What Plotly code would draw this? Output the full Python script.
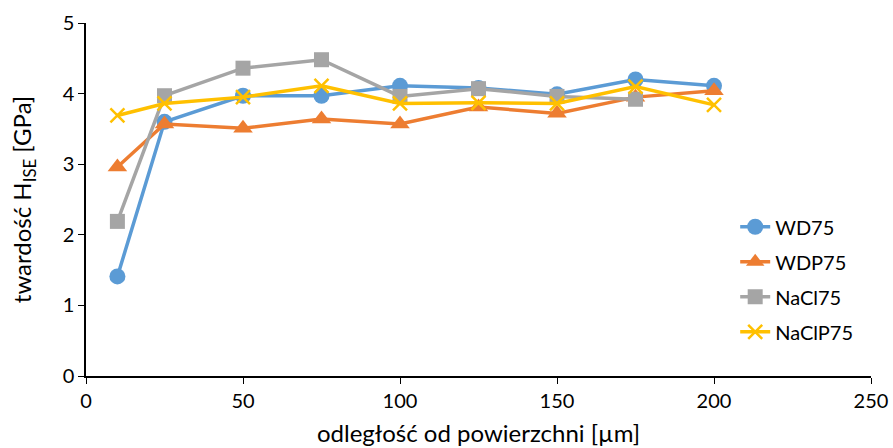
import plotly.graph_objects as go

# odległość od powierzchni [µm]
x = [10, 25, 50, 75, 100, 125, 150, 175, 200]

wd75 = [1.41, 3.60, 3.97, 3.97, 4.11, 4.08, 3.99, 4.20, 4.11]
wdp75 = [2.96, 3.57, 3.51, 3.64, 3.57, 3.81, 3.72, 3.95, 4.04]
nacl75 = [2.19, 3.97, 4.36, 4.48, 3.96, 4.07, 3.96, 3.92]
naclp75 = [3.69, 3.86, 3.95, 4.11, 3.86, 3.87, 3.86, 4.10, 3.84]

series = [
    ("WD75", x, wd75, "#5B9BD5", "circle", 16),
    ("WDP75", x, wdp75, "#ED7D31", "triangle-up", 17),
    ("NaCl75", x[:8], nacl75, "#A5A5A5", "square", 15),
    ("NaClP75", x, naclp75, "#FFC000", "x-thin-open", 14),
]

fig = go.Figure()
for name, xs, ys, col, sym, sz in series:
    marker = dict(color=col, symbol=sym, size=sz)
    if sym == "x-thin-open":
        marker["line"] = dict(color=col, width=2.5)
    fig.add_trace(go.Scatter(
        x=xs, y=ys, name=name, mode="lines+markers",
        line=dict(color=col, width=3.5),
        marker=marker,
        legendgroup=name,
    ))

fig.update_layout(
    width=893, height=448,
    margin=dict(l=86, r=22, t=23, b=72),
    plot_bgcolor="white", paper_bgcolor="white",
    font=dict(family="Lato", size=20, color="black"),
    showlegend=True,
    legend=dict(x=0.827, y=0.478, xanchor="left", yanchor="top",
                font=dict(size=20), tracegroupgap=6,
                bgcolor="rgba(0,0,0,0)"),
)
fig.update_xaxes(
    range=[0, 250], dtick=50, showgrid=False, zeroline=False,
    showline=True, linecolor="black", linewidth=1.5,
    ticks="outside", ticklen=6, tickcolor="black", automargin=False,
    title=dict(text="odległość od powierzchni [µm]", standoff=14),
)
fig.update_yaxes(
    range=[0, 5], dtick=1, showgrid=False, zeroline=False,
    showline=True, linecolor="black", linewidth=1.5,
    ticks="outside", ticklen=6, tickcolor="black", automargin=False,
    title=dict(text="twardość H<sub>ISE</sub> [GPa]", standoff=24),
)

# page body has a default 8px margin; drop it so the figure fills the window
fig.write_html("out.html", config={"displayModeBar": False},
               post_script="document.body.style.margin='0';")
